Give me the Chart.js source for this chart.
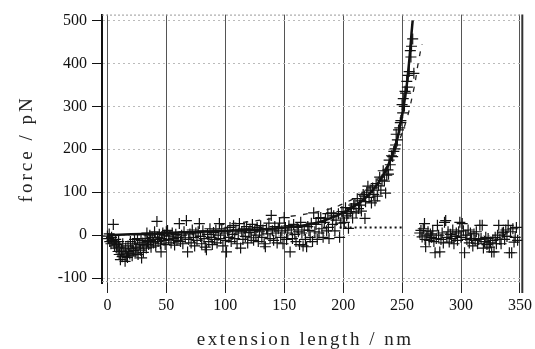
<!DOCTYPE html>
<html><head><meta charset="utf-8">
<script src="https://cdn.jsdelivr.net/npm/chart.js@4/dist/chart.umd.min.js"></script>
<style>html,body{margin:0;padding:0;background:#fff}canvas{display:block}</style>
</head><body>
<canvas id="c" width="535" height="349"></canvas>
<script>
// tick values
const xTicks = [0, 50, 100, 150, 200, 250, 300, 350];
const yTicks = [-100, 0, 100, 200, 300, 400, 500];

// measured force-extension points (nm, pN)
const pullX = [0,1,1.5,2,3,3.5,4,5,5.5,6,7,7.5,8,9,9.5,
10,10.5,11,12,12.5,13,14,15,15.5,16,17,17.5,18,19,19.5,
20,21,21.5,22,23,23.5,24,25,25.5,26,27,28,28.5,29,30,
30.5,31,32,33,33.5,34,35,36,36.5,37,38,39,40,40.5,
41,42,42.5,43,44,45,45.5,46,47,48,48.5,49,50,
51,52,53,54,55,56,57,58,59,60,61,62,63,64,65,66,67,68,69,70,71,72,73,74,75,
76,77,78,79,80,81,82,83,84,85,86,87,88,89,90,91,92,93,94,95,96,97,98,99,100,
101,102,103,104,105,106,107,108,109,110,111,112,113,114,115,116,117,118,119,120,121,122,123,124,125,
126,127,128,129,130,131,132,133,134,135,136,137,138,139,140,141,142,143,144,145,146,147,148,149,150,
151,152,153,154,155,156,157,158,159,160,161,162,163,164,165,166,167,168,169,170,171,172,173,174,175,
176,177,178,179,179.5,181,182,183,184,185,186,187,187.5,188,190,191,192,193,194,196,197,198,199,200,
201,202,203,204,204.5,206,207,208,209,210,211,212,213,214,215,215.5,217,218,218.5,219,220,221,222,223,224,225,226,227,228,229,230,
231,232,233,234,235,236,237,238,238.5,239,240,241,242,243,244,244.5,245,246,247,248,248.5,249,250,250.5,251,252,252.5,253,254,254.5,255,256,257,257.5,258,259,260,
265,266,267,268,269,269.5,270,271,272,273,274,275,276,277,278,279,280,281,282,283,284,285,286,287,288,289,290,
291,292,293,294,295,296,297,298,299,300,301,302,303,304,305,306,307,308,309,310,311,312,313,314,315,316,317,318,319,320,
321,322,323,324,325,326,327,328,329,330,331,332,333,334,335,336,337,338,339,340,341,342,343,344,345,346,347,348];
const pullY = [-2,-8,3,-15,-20,-5,-12,25,-18,-25,-10,-30,-22,-38,-15,
-45,-28,-57,-35,-50,-20,-42,-61,-30,-48,-52,-25,-38,-44,-15,
-32,-48,-20,-36,-10,-42,-28,-30,-8,-45,-22,-35,-12,-53,-18,
-40,-25,-8,-30,5,-15,-22,0,-12,-28,-5,-18,8,-10,
-25,32,-5,-15,2,-20,-39,-8,5,-12,0,-22,8,
11,-10,-2,-18,5,-8,-23,2,-12,-5,27,-15,0,-20,8,-6,34,-39,-10,3,-18,12,-5,-25,5,
-12,8,27,-3,-20,10,-8,-28,-34,2,-15,15,-5,-22,6,-10,12,-18,0,27,-8,15,-25,5,-12,
-39,10,-5,18,-15,2,22,-8,12,-20,5,27,-30,8,-10,15,-3,20,-18,6,14,-6,25,-12,10,
0,18,-15,8,22,-5,12,-20,-27,15,3,28,-8,46,10,-12,20,5,-18,15,28,-5,10,-20,41,
18,-10,5,22,-39,12,-8,25,2,-15,18,8,-22,30,5,-25,12,-10,-27,20,11,-5,28,-15,52,
8,25,-10,39,5,41,15,-5,30,39,10,50,18,-8,52,25,45,10,35,50,-5,28,55,40,
30,64,45,50,16,55,62,40,70,73,52,85,62,70,80,56,95,91,39,78,100,114,88,105,75,110,95,80,120,91,115,
135,105,128,150,126,98,140,152,142,175,164,185,183,195,201,210,235,222,245,250,262,267,304,285,318,300,335,331,358,345,372,381,430,415,440,457,377,
5,11,-4,15,27,-10,-27,0,8,-12,3,-5,10,-15,-41,-8,23,0,-39,-10,5,-18,30,34,-5,8,-16,
2,-8,12,-20,-3,5,-12,8,30,-5,27,10,-41,0,-10,12,-18,5,-8,-25,3,-12,8,-20,-10,23,-8,23,-30,-15,
-5,-22,-8,-28,-18,-39,-12,-39,-5,-20,0,23,-10,-20,5,7,-10,12,-3,23,-41,8,-41,15,-16,-5,18,-12];

// fitted curve (solid)
const fitX = [0,20,40,60,80,100,120,140,160,175,185,195,205,215,222,228,233,237,240,243,246,248,250,252,254,255.5,257,258,259];
const fitY = [0,2,4,6,8,10,12,15,20,27,35,46,60,78,95,115,135,155,175,198,225,250,280,312,350,390,435,470,500];

// second fitted curve (dashed)
const fit2X = [95,110,130,150,170,190,200,212,222,232,240,246,251,255,258,261,263,265,267];
const fit2Y = [24,28,35,42,50,62,73,90,110,140,175,210,245,280,315,355,390,420,445];

// baseline (dotted)
const baseX = [197, 252];
const baseY = [18, 18];

const toPts = (xs, ys) => xs.map((x, i) => ({x: x, y: ys[i]}));
const SERIF = "'Liberation Serif', 'Times New Roman', serif";

const framePlugin = {
  id: 'frame',
  beforeDraw(chart) {
    for (const id in chart.scales) {
      const s = chart.scales[id];
      if (!s._lsPatched) {
        const orig = s.drawTitle;
        s.drawTitle = function () {
          const c = this.ctx;
          c.save();
          if (this.axis === 'x') { c.letterSpacing = '2.5px'; c.translate(-7, 2); }
          else { c.letterSpacing = '3px'; c.translate(3, 0); }
          orig.apply(this, arguments);
          c.restore();
        };
        s._lsPatched = true;
      }
    }
  },
  beforeDatasetsDraw(chart) {
    const {ctx, chartArea: a} = chart;
    ctx.save();
    ctx.strokeStyle = '#999';
    ctx.lineWidth = 1;
    ctx.setLineDash([2, 2]);
    ctx.beginPath();
    ctx.moveTo(a.left, a.top + 0.5); ctx.lineTo(a.right, a.top + 0.5);
    ctx.moveTo(a.left, a.bottom - 1.5); ctx.lineTo(a.right, a.bottom - 1.5);
    ctx.stroke();
    ctx.setLineDash([]);
    ctx.strokeStyle = '#333';
    ctx.lineWidth = 2;
    ctx.beginPath();
    ctx.moveTo(a.right, a.top); ctx.lineTo(a.right, a.bottom + 10);
    ctx.stroke();
    ctx.restore();
  }
};

new Chart(document.getElementById('c'), {
  type: 'scatter',
  data: {
    datasets: [
      {data: toPts(fitX, fitY), showLine: true, borderColor: '#111', borderWidth: 2.5, pointRadius: 0, tension: 0.3},
      {data: toPts(fit2X, fit2Y), showLine: true, borderColor: '#222', borderWidth: 1.3, borderDash: [5, 7], pointRadius: 0, tension: 0.3},
      {data: toPts(baseX, baseY), showLine: true, borderColor: '#111', borderWidth: 2, borderDash: [2, 3], pointRadius: 0},
      {data: toPts(pullX, pullY), showLine: false, pointStyle: 'cross', pointRadius: 5.5, borderColor: '#111', backgroundColor: '#111', borderWidth: 1.2}
    ]
  },
  options: {
    responsive: false,
    devicePixelRatio: 1,
    animation: false,
    layout: {padding: {top: 9, right: 10, left: 0, bottom: 0}},
    plugins: {legend: {display: false}, tooltip: {enabled: false}},
    scales: {
      x: {
        type: 'linear', min: -4.6, max: 352,
        afterBuildTicks: s => { s.ticks = xTicks.map(v => ({value: v})); },
        afterFit: s => { s.height = 66; },
        grid: {color: '#555', lineWidth: 1, tickLength: 10, tickColor: '#222', drawTicks: true},
        border: {display: false},
        ticks: {font: {family: SERIF, size: 16}, color: '#111', padding: 3, maxRotation: 0, autoSkip: false},
        title: {display: true, text: 'extension length / nm', font: {family: SERIF, size: 19}, color: '#222', padding: 0}
      },
      y: {
        type: 'linear', min: -111.4, max: 513.7,
        afterBuildTicks: s => { s.ticks = yTicks.map(v => ({value: v})); },
        afterFit: s => { s.width = 102; },
        grid: {color: '#bbb', lineWidth: 1, tickLength: 10, tickColor: '#111'},
        border: {display: true, color: '#111', width: 2, dash: [2, 3]},
        ticks: {font: {family: SERIF, size: 16}, color: '#111', padding: 5, autoSkip: false},
        title: {display: true, text: 'force / pN', font: {family: SERIF, size: 19}, color: '#222', padding: {top: 13}}
      }
    }
  },
  plugins: [framePlugin]
});
</script>
</body></html>
